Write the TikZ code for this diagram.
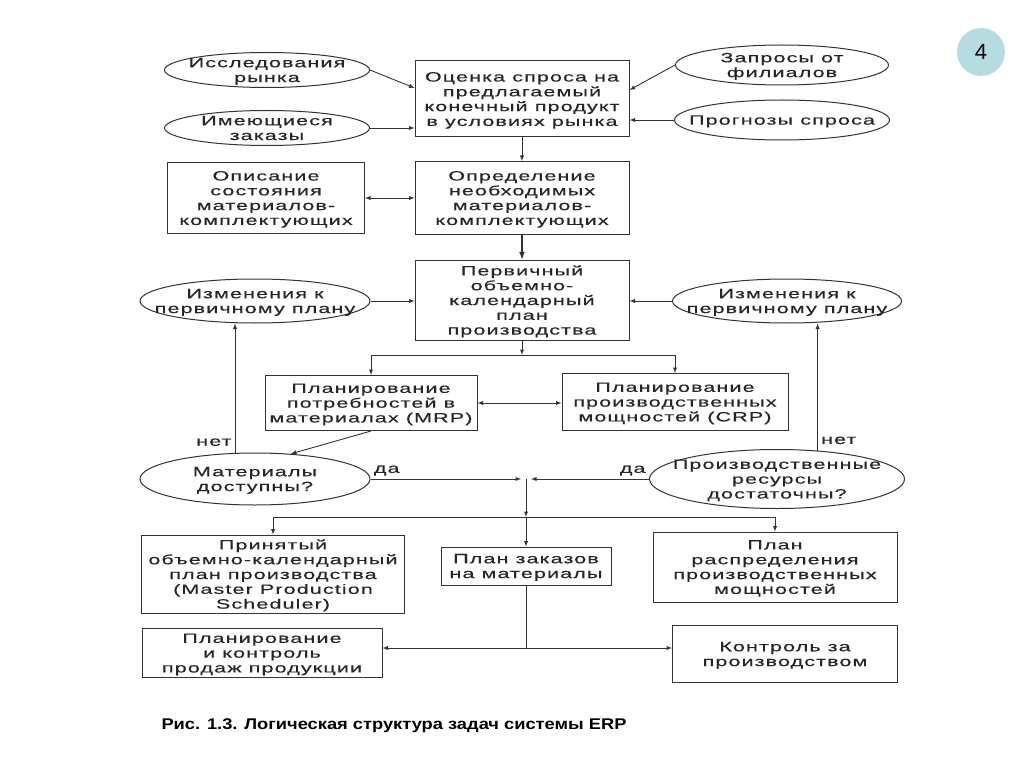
\documentclass[tikz,border=0pt]{standalone}
\usepackage{fontspec}
\setmainfont{Liberation Sans}
\newfontfamily\wide[FakeStretch=1.6,LetterSpace=8,FakeBold=0.4]{Liberation Sans}
\newfontfamily\capfont[FakeStretch=1.18]{Liberation Sans}
\usetikzlibrary{arrows, positioning, shapes.geometric, calc}
\definecolor{badge}{RGB}{182,219,225}

\begin{document}
\begin{tikzpicture}[
        x=1pt, y=-1pt,
        >=latex,
        every node/.style={align=center, text=black!85, font=\wide\fontsize{13.5}{14.8}\selectfont},
        box/.style={rectangle, draw=black!80, line width=1pt, inner sep=0pt, text depth=-2pt},
        oval/.style={ellipse, draw=black!80, line width=1pt, inner sep=-25pt, text depth=-9pt},
        link/.style={draw=black!80, line width=0.9pt},
        note/.style={inner sep=3pt}
    ]
        \useasboundingbox (0,0) rectangle (1024,767);

        % Верхний блок
        \node[box, minimum width=214pt, minimum height=76pt] (ocenka) at (522,99) {Оценка спроса на\\предлагаемый\\конечный продукт\\в условиях рынка};
        \node[oval, minimum width=205pt, minimum height=35pt] (issl) at (267,70) {Исследования\\рынка};
        \node[oval, minimum width=205pt, minimum height=35pt] (zak) at (267,128) {Имеющиеся\\заказы};
        \node[oval, minimum width=213pt, minimum height=40pt] (zapr) at (782,65) {Запросы от\\филиалов};
        \node[oval, minimum width=215pt, minimum height=40pt] (progn) at (782,120) {Прогнозы спроса};

        % Материалы-комплектующие
        \node[box, minimum width=214pt, minimum height=73pt] (opred) at (522,198) {Определение\\необходимых\\материалов-\\комплектующих};
        \node[box, minimum width=197pt, minimum height=71pt] (opis) at (266,198) {Описание\\состояния\\материалов-\\комплектующих};

        % Первичный план
        \node[box, minimum width=214pt, minimum height=80pt] (perv) at (522,300) {Первичный\\объемно-\\календарный\\план\\производства};
        \node[oval, minimum width=230pt, minimum height=44pt] (izmL) at (255,301) {Изменения к\\первичному плану};
        \node[oval, minimum width=229pt, minimum height=44pt] (izmR) at (787,301) {Изменения к\\первичному плану};

        % MRP и CRP
        \node[box, minimum width=212pt, minimum height=55pt] (mrp) at (371,403) {Планирование\\потребностей в\\материалах (MRP)};
        \node[box, minimum width=226pt, minimum height=57pt] (crp) at (675,402) {Планирование\\производственных\\мощностей (CRP)};

        % Проверки
        \node[oval, minimum width=230pt, minimum height=52pt] (mater) at (255,479) {Материалы\\доступны?};
        \node[oval, minimum width=255pt, minimum height=59pt] (resurs) at (777,479) {Производственные\\ресурсы\\достаточны?};

        % Итоговые планы
        \node[box, minimum width=263pt, minimum height=78pt] (prin) at (273,574) {Принятый\\объемно-календарный\\план производства\\(Master Production\\Scheduler)};
        \node[box, minimum width=170pt, minimum height=38pt] (zakmat) at (526,566) {План заказов\\на материалы};
        \node[box, minimum width=244pt, minimum height=70pt] (raspr) at (775,567) {План\\распределения\\производственных\\мощностей};
        \node[box, minimum width=240pt, minimum height=49pt] (prodazh) at (262,653) {Планирование\\и контроль\\продаж продукции};
        \node[box, minimum width=225pt, minimum height=57pt] (kontr) at (785,654) {Контроль за\\производством};

        % Точки ветвления
        \coordinate (b1) at (522,355);
        \coordinate (daL) at (521,479);
        \coordinate (daR) at (531,479);
        \coordinate (jn) at (526,479);
        \coordinate (b2) at (526,517);
        \coordinate (b3) at (526,648);

        % Связи верхнего блока
        \draw[link, ->] (issl.east) -- ([yshift=11pt]ocenka.west);
        \draw[link, ->] (zak.east) -- (zak.east -| ocenka.west);
        \draw[link, ->] (zapr.west) -- ([yshift=9pt]ocenka.east);
        \draw[link, ->] (progn.west) -- (progn.west -| ocenka.east);
        \draw[link, ->] (ocenka) -- (opred);
        \draw[link, <->] (opis.east) -- (opis.east -| opred.west);
        \draw[link, ->, line width=1.6pt] (opred) -- (perv);
        \draw[link, ->] (izmL.east) -- (izmL.east -| perv.west);
        \draw[link, ->] (izmR.west) -- (izmR.west -| perv.east);

        % Разветвление к MRP и CRP
        \draw[link, ->] (perv.south) -- (b1);
        \draw[link, ->] (b1) -| (mrp.north);
        \draw[link, ->] (b1) -| (crp.north);
        \draw[link, <->] (mrp.east) -- (mrp.east -| crp.west);
        \draw[link, ->] (mrp.south) -- (mater.35);

        % Ответы нет / да
        \draw[link, ->] ([xshift=-20pt]mater.north) -- ([xshift=-20pt]mater.north |- izmL.south)
            node[note, pos=0.08, left] {нет};
        \draw[link, ->] (resurs.35) -- (resurs.35 |- izmR.south)
            node[note, pos=0.08, right] {нет};
        \draw[link, ->] (mater.east) -- (daL)
            node[note, pos=0, anchor=south west] {да};
        \draw[link, ->] (resurs.west) -- (daR)
            node[note, pos=0, anchor=south east] {да};

        % Разветвление к итоговым планам
        \draw[link, ->] (jn) -- (b2);
        \draw[link, ->] (b2) -| (prin.north);
        \draw[link, ->] (b2) -- (zakmat.north);
        \draw[link, ->] (b2) -| (raspr.north);
        \draw[link] (zakmat.south) -- (b3);
        \draw[link, ->] (b3) -- (b3 -| prodazh.east);
        \draw[link, ->] (b3) -- (b3 -| kontr.west);

        % Подпись и номер
        \node[anchor=west, text=black, font=\capfont\fontsize{15.5}{18}\selectfont\bfseries] (caption) at (158,726) {Рис. 1.3. Логическая структура задач системы ERP};
        \node[circle, fill=badge, minimum size=48pt, inner sep=0pt, text=black, font=\fontsize{22}{24}\selectfont] (page) at (981,52) {4};
    \end{tikzpicture}
\end{document}
